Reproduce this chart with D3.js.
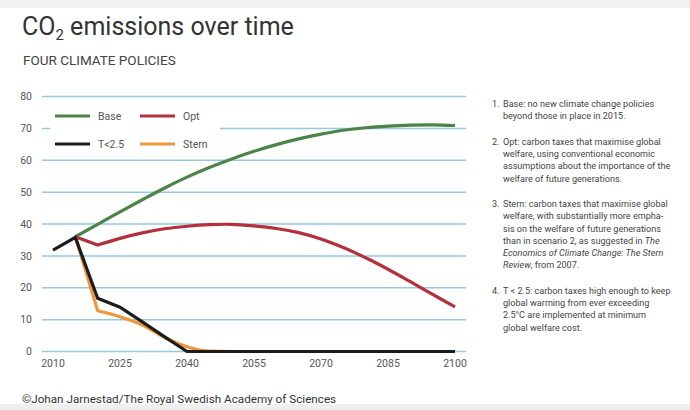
<!DOCTYPE html>
<html><head><meta charset="utf-8">
<script src="https://cdn.jsdelivr.net/npm/d3@7"></script>
<style>
html,body{margin:0;padding:0;background:#fff;}
svg{display:block;}
</style></head>
<body>
<script>
const years = [2010,2015,2020,2025,2030,2035,2040,2045,2050,2055,2060,2065,2070,2075,2080,2085,2090,2095,2100];
const baseValues = [null,36,39.9,43.8,47.6,51.3,54.7,57.7,60.4,62.8,64.9,66.7,68.2,69.4,70.2,70.7,71.0,71.1,70.9];
const optValues = [null,36,33.4,35.5,37.2,38.5,39.3,39.8,39.9,39.4,38.6,37.3,35.3,32.6,29.4,25.8,21.9,17.9,14.0];
const sternValues = [null,36,12.8,10.9,8.3,4.4,1.5,0.1,0,0,0,0,0,0,0,0,0,0,0];
const t25Values = [31.8,35.8,16.7,13.9,9.3,4.6,0,0,0,0,0,0,0,0,0,0,0,0,0];
const seriesNames = ["Base","Opt","T<2.5","Stern"];
const xTicks = [2010,2025,2040,2055,2070,2085,2100];
const yTicks = [0,10,20,30,40,50,60,70,80];
const titleText = "CO";
const titleSub = "2";
const titleRest = " emissions over time";
const subtitleText = "FOUR CLIMATE POLICIES";
const creditText = "©Johan Jarnestad/The Royal Swedish Academy of Sciences";
const notes = [
  {num:"1.", lines:[[["Base: no new climate change policies",0]],[["beyond those in place in 2015.",0]]]},
  {num:"2.", lines:[[["Opt: carbon taxes that maximise global",0]],[["welfare, using conventional economic",0]],[["assumptions about the importance of the",0]],[["welfare of future generations.",0]]]},
  {num:"3.", lines:[[["Stern: carbon taxes that maximise global",0]],[["welfare, with substantially more empha-",0]],[["sis on the welfare of future generations",0]],[["than in scenario 2, as suggested in ",0],["The",1]],[["Economics of Climate Change: The Stern",1]],[["Review",1],[", from 2007.",0]]]},
  {num:"4.", lines:[[["T < 2.5: carbon taxes high enough to keep",0]],[["global warming from ever exceeding",0]],[["2.5°C are implemented at minimum",0]],[["global welfare cost.",0]]]}
];

const W = 690, H = 410;
const svg = d3.select("body").append("svg").attr("width", W).attr("height", H);
const FONT = "Roboto, 'Liberation Sans', sans-serif";

svg.append("rect").attr("width", W).attr("height", H).attr("fill", "#fff");
svg.append("rect").attr("width", W).attr("height", 8).attr("fill", "#f1f1f1");
svg.append("rect").attr("y", 404).attr("width", W).attr("height", 6).attr("fill", "#efefef");

const x = d3.scaleLinear().domain([2010, 2100]).range([53, 455]);
const y = d3.scaleLinear().domain([0, 80]).range([351.5, 96.5]);
const gridX0 = 42, gridX1 = 466;

// grid
svg.append("g").selectAll("line").data(yTicks).join("line")
  .attr("x1", gridX0).attr("x2", gridX1)
  .attr("y1", d => y(d)).attr("y2", d => y(d))
  .attr("stroke", "#94c9df").attr("stroke-width", 1.5);

// y labels
svg.append("g").selectAll("text").data(yTicks).join("text")
  .attr("x", 32).attr("y", d => y(d)).attr("dy", "0.35em")
  .attr("text-anchor", "end").attr("font-family", FONT).attr("font-size", 10.5)
  .attr("fill", "#555").text(d => d);

// x labels
svg.append("g").selectAll("text").data(xTicks).join("text")
  .attr("x", d => x(d)).attr("y", 367)
  .attr("text-anchor", "middle").attr("font-family", FONT).attr("font-size", 10.5)
  .attr("fill", "#555").text(d => d);

// legend backdrop (breaks gridline)
svg.append("rect").attr("x", 50).attr("y", 104).attr("width", 170).attr("height", 50).attr("fill", "#fff");

const colors = {"Base":"#4c8447","Opt":"#b3303c","T<2.5":"#1c1c1c","Stern":"#ef963a"};
const seriesData = {"Base":baseValues,"Opt":optValues,"T<2.5":t25Values,"Stern":sternValues};
// straight segments up to the 2020 kink, then a smooth curve
const curves = {"Base":d3.curveCatmullRom.alpha(0.5),"Opt":d3.curveCatmullRom.alpha(0.5),"Stern":d3.curveMonotoneX,"T<2.5":d3.curveLinear};
const drawOrder = ["Base","Opt","Stern","T<2.5"];
drawOrder.forEach(name => {
  const pts = years.map((yr,i) => [yr, seriesData[name][i]]).filter(p => p[1] !== null);
  const head = pts.filter(p => p[0] <= 2020);
  const tail = pts.filter(p => p[0] >= 2020);
  const lin = d3.line().x(p => x(p[0])).y(p => y(p[1]));
  const smooth = d3.line().x(p => x(p[0])).y(p => y(p[1])).curve(curves[name]);
  const dTail = smooth(tail).replace(/^M[^LC]*/, "");
  svg.append("path").attr("d", lin(head) + dTail)
    .attr("fill", "none").attr("stroke", colors[name]).attr("stroke-width", 3.2)
    .attr("stroke-linejoin", "miter").attr("stroke-linecap", "butt");
});

// legend
const legendPos = [[55,116],[140,116],[55,144],[140,144]];
seriesNames.forEach((name, i) => {
  const [lx, ly] = legendPos[i];
  svg.append("line").attr("x1", lx).attr("x2", lx + 35).attr("y1", ly).attr("y2", ly)
    .attr("stroke", colors[name]).attr("stroke-width", 3.2);
  svg.append("text").attr("x", lx + 43).attr("y", ly).attr("dy", "0.35em")
    .attr("font-family", FONT).attr("font-size", 10.5).attr("fill", "#555").text(name);
});

// title
const t = svg.append("text").attr("x", 22).attr("y", 35)
  .attr("font-family", FONT).attr("font-size", 25).attr("fill", "#333");
t.append("tspan").text(titleText);
t.append("tspan").attr("font-size", 15).attr("dy", 5).text(titleSub);
t.append("tspan").attr("dy", -5).text(titleRest);

svg.append("text").attr("x", 23).attr("y", 65)
  .attr("font-family", FONT).attr("font-size", 13.5).attr("fill", "#444").text(subtitleText);

// notes
let cy = 104;
const lh = 12.3, gap = 13;
notes.forEach(n => {
  svg.append("text").attr("x", 492).attr("y", cy).attr("dy", "0.35em")
    .attr("font-family", FONT).attr("font-size", 9.1).attr("fill", "#444").text(n.num);
  n.lines.forEach((segs, li) => {
    const tx = svg.append("text").attr("x", 503).attr("y", cy + li * lh).attr("dy", "0.35em")
      .attr("font-family", FONT).attr("font-size", 9.1).attr("fill", "#444");
    segs.forEach(s => tx.append("tspan").attr("font-style", s[1] ? "italic" : "normal").text(s[0]));
  });
  cy += n.lines.length * lh + gap;
});

svg.append("text").attr("x", 22).attr("y", 403)
  .attr("font-family", FONT).attr("font-size", 11.7).attr("fill", "#333").text(creditText);
</script>
</body></html>
